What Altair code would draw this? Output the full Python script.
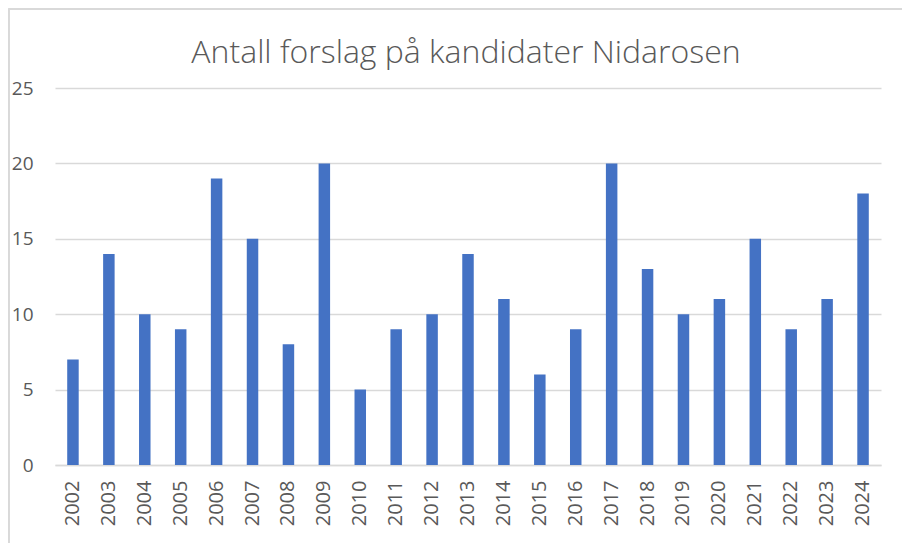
import altair as alt
import pandas as pd

years = [str(y) for y in range(2002, 2025)]
values = [7, 14, 10, 9, 19, 15, 8, 20, 5, 9, 10, 14, 11, 6, 9, 20, 13, 10, 11, 15, 9, 11, 18]
title_text = "Antall forslag på kandidater Nidarosen"

df = pd.DataFrame({"year": years, "value": values})

W, H = 826, 377
PL, PT, PR, PB = 47, 80, 21, 78
FONT = "Open Sans"
GREY = "#595959"
LINE = "#d9d9d9"

bars = alt.Chart(df).mark_bar(color="#4472C4").encode(
    x=alt.X("year:N", sort=years, title=None,
            scale=alt.Scale(paddingInner=0.68, paddingOuter=0.34),
            axis=alt.Axis(labelAngle=-90, labelFontSize=20, labelFont=FONT,
                          labelColor=GREY, ticks=False, tickSize=0, labelPadding=15,
                          domain=True, domainColor=LINE, domainWidth=1.3,
                          labelBaseline="middle")),
    y=alt.Y("value:Q", title=None,
            scale=alt.Scale(domain=[0, 25]),
            axis=alt.Axis(values=[0, 5, 10, 15, 20, 25], labelFontSize=19, labelFont=FONT,
                          labelColor=GREY, ticks=False, tickSize=0, labelPadding=22,
                          domain=False, grid=True, gridColor=LINE, gridWidth=1.3)),
)

left_border = alt.Chart(df).mark_rule(color=LINE, strokeWidth=1.5).encode(
    x=alt.value(-46.3), y=alt.value(-79), y2=alt.value(H + PB)
)
top_border = alt.Chart(df).mark_rule(color=LINE, strokeWidth=1.5).encode(
    y=alt.value(-79), x=alt.value(-46.3), x2=alt.value(W + PR)
)

title = alt.Chart(pd.DataFrame({"t": [title_text]})).mark_text(
    font=FONT, fontSize=32, fontWeight=300, color=GREY,
    align="center", baseline="alphabetic"
).encode(
    text="t:N", x=alt.value(W / 2 - 2), y=alt.value(-25)
)

chart = alt.layer(left_border, top_border, bars, title).properties(
    width=W, height=H,
    autosize=alt.AutoSizeParams(type="none"),
    padding={"left": PL, "top": PT, "right": PR, "bottom": PB},
).configure_view(stroke=None)

chart.save("out.html", embed_options={"renderer": "svg", "actions": False})
